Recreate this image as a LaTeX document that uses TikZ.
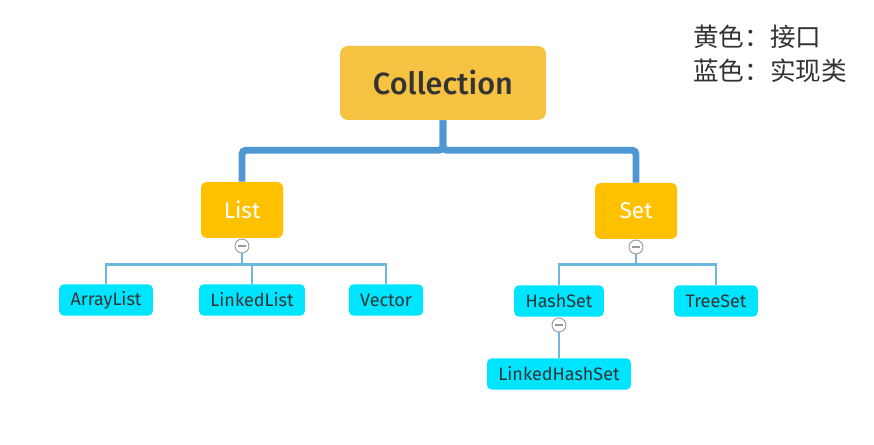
\documentclass[tikz,border=0pt]{standalone}
\usepackage{fontspec}
\setmainfont{Fira Sans}
\newfontfamily\rootfont{Fira Sans Medium}
\newfontfamily\cjk{Noto Sans CJK SC}
\definecolor{rootfill}{HTML}{F5C242}
\definecolor{ifacefill}{HTML}{FFC000}
\definecolor{implfill}{HTML}{00E5FF}
\definecolor{trunkblue}{HTML}{4E97D2}
\definecolor{branchblue}{HTML}{6CB8DF}
\definecolor{darktext}{HTML}{333333}
\tikzset{
  rootbox/.style={fill=rootfill, rounded corners=6pt, minimum width=154.5pt, minimum height=55.5pt,
    text=darktext, font=\rootfont\fontsize{23}{26}\selectfont},
  ifacebox/.style={fill=ifacefill, rounded corners=4.5pt, minimum width=61.5pt, minimum height=42pt,
    text=white, font=\fontsize{17}{20}\selectfont},
  implbox/.style={fill=implfill, rounded corners=3.5pt, minimum height=23.5pt, inner xsep=8.5pt,
    text=darktext, font=\fontsize{13.5}{16}\selectfont},
  fold/.style={circle, draw=gray!80, fill=white, line width=0.7pt, minimum size=10.5pt, inner sep=0pt,
    path picture={\draw[gray!80, line width=0.8pt] ([xshift=2pt]path picture bounding box.west) -- ([xshift=-2pt]path picture bounding box.east);}},
  trunk/.style={trunkblue, line width=5.2pt, rounded corners=3pt},
  branch/.style={branchblue, line width=1.9pt},
}
\begin{document}
\begin{tikzpicture}[x=0.75pt, y=-0.75pt]
  \useasboundingbox (0,0) rectangle (874,445);

  % legend
  \node[anchor=north west, inner sep=0pt, text=darktext, align=left,
        font=\cjk\fontsize{19.2}{25.5}\selectfont] (legend) at (693,25) {黄色：接口\\蓝色：实现类};

  % root and interfaces
  \node[rootbox] (coll) at (443,83) {Collection};
  \node[ifacebox] (list) at (242,210) {List};
  \node[ifacebox] (set) at (636,211) {Set};

  \draw[trunk] (coll.south) -- ++(0,30) -| (list.north);
  \draw[trunk] (coll.south) -- ++(0,30) -| (set.north);

  % implementations of List
  \node[fold] (listfold) at (242,246) {};
  \node[implbox] (alist) at (106,300) {ArrayList};
  \node[implbox] (llist) at (252,300) {LinkedList};
  \node[implbox] (vec) at (386,300) {Vector};

  \draw[branch] (listfold.south) -- ++(0,11) -| (alist.north);
  \draw[branch] (listfold.south) -- ++(0,11) -| (llist.north);
  \draw[branch] (listfold.south) -- ++(0,11) -| (vec.north);

  % implementations of Set
  \node[fold] (setfold) at (636,247) {};
  \node[implbox] (hset) at (559,301) {HashSet};
  \node[implbox] (tset) at (716,301) {TreeSet};
  \node[fold] (hsetfold) at (559,325) {};
  \node[implbox] (lhset) at (559,374) {LinkedHashSet};

  \draw[branch] (setfold.south) -- ++(0,10) -| (hset.north);
  \draw[branch] (setfold.south) -- ++(0,10) -| (tset.north);
  \draw[branch] (hsetfold.south) -- (lhset.north);
\end{tikzpicture}
\end{document}
